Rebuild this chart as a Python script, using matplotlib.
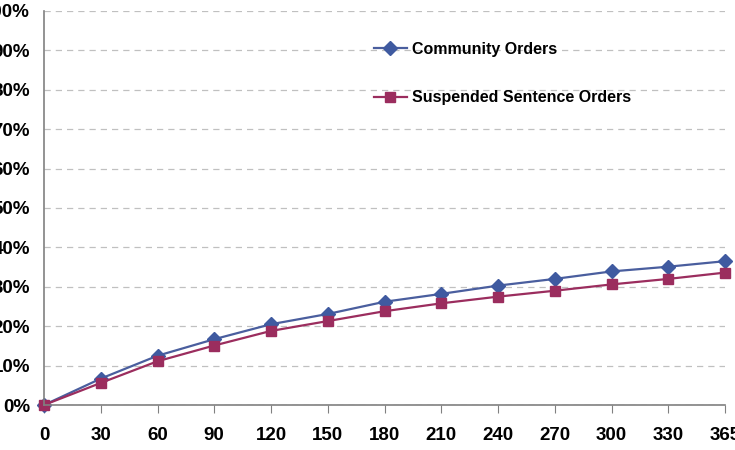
import matplotlib
matplotlib.use("Agg")
import matplotlib.pyplot as plt
from matplotlib.ticker import PercentFormatter

days = ["0", "30", "60", "90", "120", "150", "180", "210", "240", "270", "300", "330", "365"]
community = [0, 6.7, 12.5, 16.7, 20.5, 23.1, 26.2, 28.2, 30.3, 32.0, 33.9, 35.1, 36.5]
suspended = [0, 5.6, 11.1, 15.1, 18.8, 21.3, 23.8, 25.8, 27.5, 29.0, 30.6, 32.0, 33.6]

plt.rcParams['font.family'] = ['Liberation Sans', 'DejaVu Sans']

fig = plt.figure(figsize=(7.35, 4.5), dpi=100)
ax = fig.add_axes([44 / 735, 0.1, (725 - 44) / 735, 0.8756])

x = range(len(days))
ax.plot(x, community, color='#4A5E9E', lw=1.6, marker='D', markersize=7,
        markerfacecolor='#3F5AA0', markeredgecolor='#3F5AA0', label='Community Orders', clip_on=False)
ax.plot(x, suspended, color='#9B2D5E', lw=1.6, marker='s', markersize=7.5,
        markerfacecolor='#9B2D5E', markeredgecolor='#9B2D5E', label='Suspended Sentence Orders', clip_on=False)

ax.set_xlim(0, len(days) - 1)
ax.set_ylim(0, 100)
ax.set_xticks(list(x))
ax.set_xticklabels(days)
ax.set_yticks(range(0, 101, 10))
ax.yaxis.set_major_formatter(PercentFormatter(decimals=0))

for lab in ax.get_xticklabels() + ax.get_yticklabels():
    lab.set_fontweight('bold')
    lab.set_fontsize(13.5)

ax.tick_params(axis='x', direction='out', length=6, color='#808080', pad=10)
ax.tick_params(axis='y', length=0, pad=10)

ax.grid(axis='y', linestyle=(0, (5, 4)), color='#C0C0C0', lw=0.9)
ax.set_axisbelow(True)
for s in ['top', 'right']:
    ax.spines[s].set_visible(False)
for s in ['left', 'bottom']:
    ax.spines[s].set_color('#808080')
    ax.spines[s].set_linewidth(1.2)

leg = ax.legend(loc='upper left', bbox_to_anchor=(0.463, 0.958), frameon=False,
                prop={'weight': 'bold', 'size': 11.5}, labelspacing=2.1,
                handlelength=2.1, handletextpad=0.3)

fig.savefig("out.png", dpi=100)
